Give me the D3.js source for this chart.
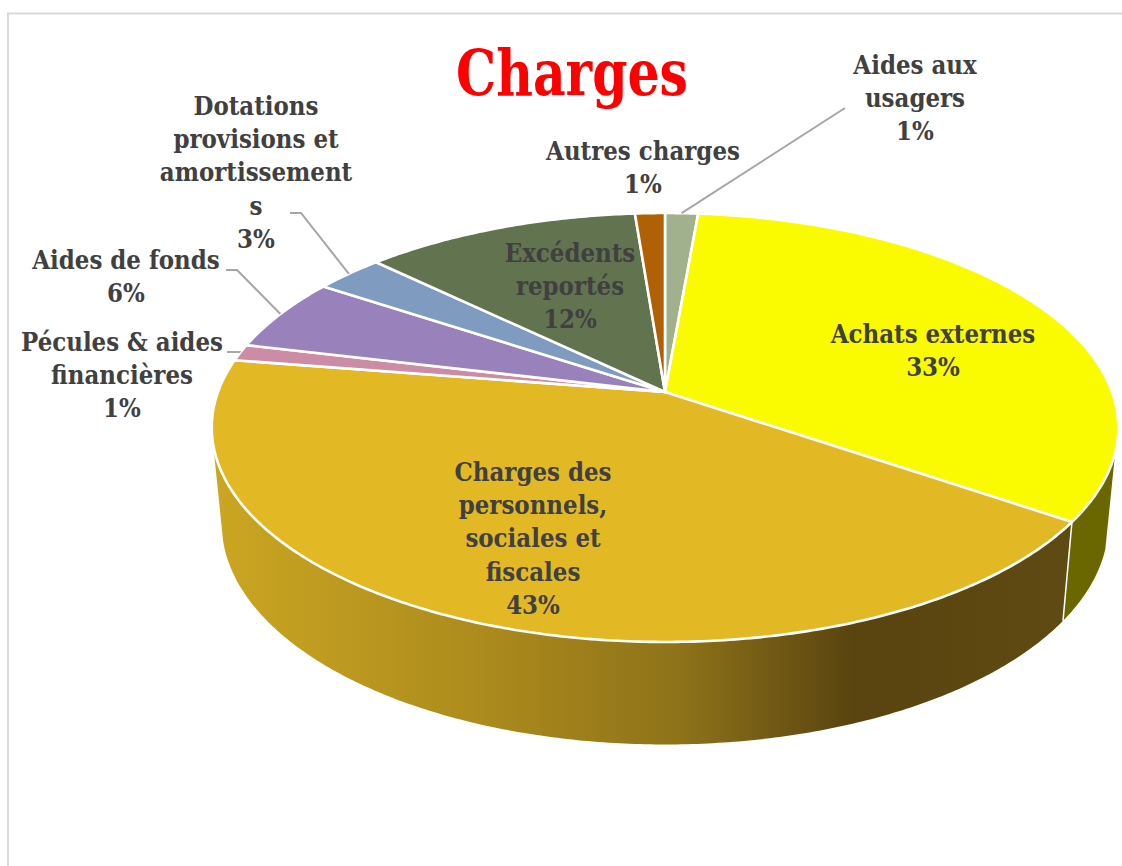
<!DOCTYPE html>
<html>
<head>
<meta charset="utf-8">
<script src="https://cdnjs.cloudflare.com/ajax/libs/d3/7.8.5/d3.min.js"></script>
<style>
  html, body { margin: 0; padding: 0; background: #fff; overflow: hidden; }
  text { font-family: "DejaVu Serif", serif; font-stretch: condensed; font-weight: bold; }
</style>
</head>
<body>
<div id="chart"></div>
<script>
const titleText = "Charges";
const categories = [
  "Aides aux usagers",
  "Achats externes",
  "Charges des personnels, sociales et fiscales",
  "Pécules & aides financières",
  "Aides de fonds",
  "Dotations provisions et amortissements",
  "Excédents reportés",
  "Autres charges",
];
const values = [1.38, 33.17, 42.95, 1.25, 5.55, 2.9, 11.55, 1.25];
const labelLines = [
  ["Aides aux", "usagers"],
  ["Achats externes"],
  ["Charges des", "personnels,", "sociales et", "fiscales"],
  ["Pécules & aides", "financières"],
  ["Aides de fonds"],
  ["Dotations", "provisions et", "amortissement", "s"],
  ["Excédents", "reportés"],
  ["Autres charges"],
];
const topColors = ["#a2b18d", "#fafa00", "#e3b825", "#cc8ca6", "#9982bc", "#7f9cc0", "#62744f", "#b06105"];

const width = 1122;
const height = 866;
const fontSize = 25.5;
const lineHeight = 33.2;

// label anchor: centre x, first baseline, and leader elbow start/end (if any)
const labelLayout = [
  { x: 915, y: 74, leader: [845, 108] },
  { x: 933, y: 343 },
  { x: 533, y: 481 },
  { x: 122, y: 351, leader: [227, 352, 240, 352] },
  { x: 126, y: 269, leader: [226, 270, 237, 270] },
  { x: 256, y: 115, leader: [290, 213, 301, 213] },
  { x: 570, y: 262 },
  { x: 643, y: 160 },
];

const disc = { cx: 665, cy: 392, a: 447, b: 208.6, c: 0.1655 };
const base = { cy: 487, sx: 0.978, sy: 1.03 };
const wallFrom = (106 * Math.PI) / 180;
const wallTo = (256 * Math.PI) / 180;

const projectTop = (t) => {
  const u = Math.sin(t);
  const v = -Math.cos(t);
  const k = 1 - disc.c * v;
  return [disc.cx + (disc.a * u) / k, disc.cy + (disc.b * v) / k];
};

const projectBase = (t) => {
  const p = projectTop(t);
  return [
    disc.cx + (p[0] - disc.cx) * base.sx,
    base.cy + (p[1] - disc.cy) * base.sy,
  ];
};

const sampleAngles = (a0, a1) => {
  const n = Math.max(2, Math.ceil((a1 - a0) / 0.01));
  return d3.range(n + 1).map((i) => a0 + ((a1 - a0) * i) / n);
};

const line = d3.line();
const closed = (pts) => line(pts) + "Z";

const svg = d3
  .select("#chart")
  .append("svg")
  .attr("width", width)
  .attr("height", height);

const sideGradient = svg
  .append("defs")
  .append("linearGradient")
  .attr("id", "side-gradient")
  .attr("gradientUnits", "userSpaceOnUse")
  .attr("x1", 215)
  .attr("x2", 1065)
  .attr("y1", 0)
  .attr("y2", 0);
sideGradient
  .selectAll("stop")
  .data([
    [0, "#cba622"],
    [0.3, "#ae8c1d"],
    [0.55, "#8d7219"],
    [0.75, "#594410"],
    [1, "#5f4a13"],
  ])
  .join("stop")
  .attr("offset", (d) => d[0])
  .attr("stop-color", (d) => d[1]);

svg
  .append("rect")
  .attr("x", 8)
  .attr("y", 13.5)
  .attr("width", 1300)
  .attr("height", 1000)
  .attr("fill", "#fff")
  .attr("stroke", "#d9d9d9")
  .attr("stroke-width", 2);

const arcs = d3
  .pie()
  .sort(null)
  .value((d) => d)(values);

// walls of the two slices that face the viewer
const boundary = arcs[1].endAngle;
const wallPath = (a0, a1) =>
  closed(
    sampleAngles(a0, a1)
      .map(projectTop)
      .concat(sampleAngles(a0, a1).reverse().map(projectBase))
  );

svg
  .append("path")
  .attr("d", wallPath(wallFrom, boundary))
  .attr("fill", "#6a6600");
svg
  .append("path")
  .attr("d", wallPath(boundary, wallTo))
  .attr("fill", "url(#side-gradient)");
svg
  .append("line")
  .attr("x1", projectTop(boundary)[0])
  .attr("y1", projectTop(boundary)[1])
  .attr("x2", projectBase(boundary)[0])
  .attr("y2", projectBase(boundary)[1])
  .attr("stroke", "#fff")
  .attr("stroke-width", 1.5);

svg
  .selectAll(".slice")
  .data(arcs)
  .join("path")
  .attr("class", "slice")
  .attr("d", (d) =>
    closed([[disc.cx, disc.cy]].concat(sampleAngles(d.startAngle, d.endAngle).map(projectTop)))
  )
  .attr("fill", (d, i) => topColors[i])
  .attr("stroke", "#fff")
  .attr("stroke-width", 2.6)
  .attr("stroke-linejoin", "round");

// leader lines end on the rim at the slice's mid angle
svg
  .selectAll(".leader")
  .data(arcs.filter((d, i) => labelLayout[i].leader))
  .join("path")
  .attr("class", "leader")
  .attr("fill", "none")
  .attr("stroke", "#a6a6a6")
  .attr("stroke-width", 2)
  .attr("d", (d) => {
    const pts = d3.pairs(labelLayout[d.index].leader).filter((p, i) => i % 2 === 0);
    return line(pts.concat([projectTop((d.startAngle + d.endAngle) / 2)]));
  });

const percent = d3.format(".0%");

const labels = svg
  .selectAll(".label")
  .data(arcs)
  .join("text")
  .attr("class", "label")
  .attr("text-anchor", "middle")
  .attr("font-size", fontSize)
  .attr("fill", "#404040");

labels
  .selectAll("tspan")
  .data((d) =>
    labelLines[d.index]
      .concat(percent(d.value / 100))
      .map((t, i) => ({ t, i, idx: d.index }))
  )
  .join("tspan")
  .attr("x", (d) => labelLayout[d.idx].x)
  .attr("y", (d) => labelLayout[d.idx].y + d.i * lineHeight)
  .text((d) => d.t);

svg
  .append("text")
  .attr("x", 572)
  .attr("y", 95)
  .attr("text-anchor", "middle")
  .attr("font-size", 63)
  .attr("textLength", 232)
  .attr("lengthAdjust", "spacingAndGlyphs")
  .attr("fill", "#ff0000")
  .text(titleText);
</script>
</body>
</html>
